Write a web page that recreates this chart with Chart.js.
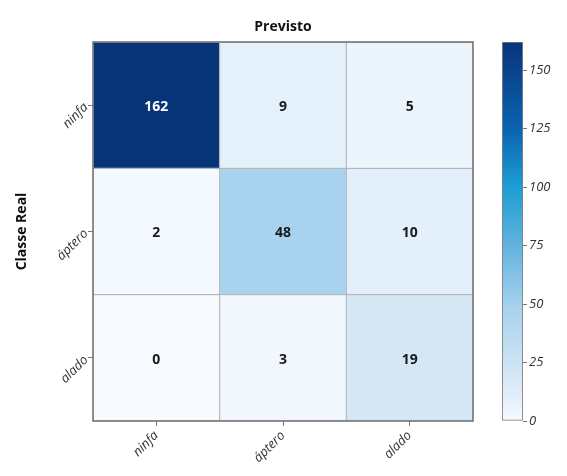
<!DOCTYPE html>
<html>
<head>
<meta charset="utf-8">
<script src="https://cdn.jsdelivr.net/npm/chart.js@4.4.1/dist/chart.umd.min.js"></script>
<style>
	html, body { margin: 0; padding: 0; background: #fff; }
	#wrap { position: relative; width: 567px; height: 476px; }
	#wrap canvas { position: absolute; top: 0; }
</style>
</head>
<body>
<div id="wrap">
	<div style="position:absolute;left:0;top:0;width:567px;height:476px"><canvas id="matriz"></canvas></div>
	<div style="position:absolute;left:490px;top:0;width:77px;height:476px"><canvas id="barra"></canvas></div>
</div>
<script>
/*
  Matriz de confusao
*/
const classes = ['ninfa', 'áptero', 'alado'];
const realNinfa = [162, 9, 5];
const realAptero = [2, 48, 10];
const realAlado = [0, 3, 19];
const escalaMax = 162;
const escalaTicks = [0, 25, 50, 75, 100, 125, 150];

// paleta azul (tipo Blues)
const paleta = [
	[0.00, [247, 251, 255]],
	[0.06, [227, 239, 250]],
	[0.12, [212, 231, 245]],
	[0.30, [168, 210, 238]],
	[0.47, [95, 178, 220]],
	[0.62, [27, 158, 212]],
	[0.77, [11, 99, 176]],
	[1.00, [8, 53, 122]]
];

function corDe(v) {
	let t = Math.max(0, Math.min(1, v / escalaMax));
	for (let i = 1; i < paleta.length; i++) {
		if (t <= paleta[i][0]) {
			let a = paleta[i - 1], b = paleta[i];
			let f = (t - a[0]) / (b[0] - a[0]);
			let c = a[1].map((x, k) => Math.round(x + (b[1][k] - x) * f));
			return 'rgb(' + c.join(',') + ')';
		}
	}
	return 'rgb(' + paleta[paleta.length - 1][1].join(',') + ')';
}

const fonte = "'Open Sans', 'Noto Sans', sans-serif";
Chart.defaults.font.family = fonte;
Chart.defaults.color = '#222';
Chart.defaults.animation = false;

const linhas = [realNinfa, realAptero, realAlado];

const rotulos = {
	id: 'rotulos',
	afterDatasetsDraw(chart) {
		const ctx = chart.ctx;
		ctx.save();
		ctx.font = "bold 14px " + fonte;
		ctx.textAlign = 'center';
		ctx.textBaseline = 'middle';
		chart.data.datasets.forEach((ds, i) => {
			chart.getDatasetMeta(i).data.forEach((bar, j) => {
				let v = ds.contagens[j];
				let p = bar.getCenterPoint();
				ctx.fillStyle = v > escalaMax * 0.6 ? '#ffffff' : '#1a1a1a';
				ctx.fillText(String(v), p.x, p.y + 2);
			});
		});
		let a = chart.chartArea;
		ctx.strokeStyle = '#6e6e6e';
		ctx.lineWidth = 1.5;
		ctx.strokeRect(a.left, a.top, a.right - a.left, a.bottom - a.top);
		ctx.restore();
	}
};

new Chart(document.getElementById('matriz'), {
	type: 'bar',
	plugins: [rotulos],
	data: {
		labels: classes,
		datasets: linhas.map((linha, i) => ({
			label: classes[i],
			data: linha.map(() => 1),
			contagens: linha,
			backgroundColor: linha.map(corDe),
			borderColor: 'rgba(95,105,115,0.35)',
			borderWidth: 1,
			borderSkipped: false,
			barPercentage: 1,
			categoryPercentage: 1
		}))
	},
	options: {
		responsive: true,
		maintainAspectRatio: false,
		layout: { padding: { left: 0, right: 94, top: 0, bottom: 0 } },
		plugins: {
			legend: { display: false },
			tooltip: { enabled: false }
		},
		scales: {
			x: {
				stacked: true,
				grid: { display: true, offset: false, drawOnChartArea: false, tickLength: 5, color: '#777' },
				border: { display: false },
				ticks: {
					minRotation: 45, maxRotation: 45,
					font: { size: 13, style: 'italic' },
					color: '#333',
					padding: 2
				},
				afterFit: function (s) { s.height = 55; }
			},
			topo: {
				type: 'category',
				labels: classes,
				position: 'top',
				grid: { display: false },
				border: { display: false },
				ticks: { display: false },
				title: {
					display: true,
					text: 'Previsto',
					font: { size: 14, weight: 'bold' },
					color: '#111',
					padding: { top: 19, bottom: 0 }
				},
				afterFit: function (s) { s.height = 42; }
			},
			y: {
				stacked: true,
				reverse: true,
				min: 0,
				max: classes.length,
				grid: { display: true, drawOnChartArea: false, tickLength: 5, color: '#777' },
				border: { display: false },
				afterBuildTicks: function (s) {
					s.ticks = classes.map((c, i) => ({ value: i + 0.5 }));
				},
				ticks: {
					minRotation: 45, maxRotation: 45,
					font: { size: 13, style: 'italic' },
					color: '#333',
					padding: 2,
					callback: function (v) { return classes[Math.floor(v)]; }
				},
				title: {
					display: true,
					text: 'Classe Real',
					font: { size: 14, weight: 'bold' },
					color: '#111',
					padding: { top: 14, bottom: 0 }
				},
				afterFit: function (s) { s.width = 93; }
			}
		}
	}
});

// barra de cores
new Chart(document.getElementById('barra'), {
	type: 'bar',
	data: {
		labels: [''],
		datasets: [{
			data: [escalaMax],
			backgroundColor: function (c) {
				let ch = c.chart;
				if (!ch.chartArea) return corDe(escalaMax / 2);
				let y = ch.scales.y;
				let g = ch.ctx.createLinearGradient(0, y.getPixelForValue(0), 0, y.getPixelForValue(escalaMax));
				paleta.forEach(p => g.addColorStop(p[0], 'rgb(' + p[1].join(',') + ')'));
				return g;
			},
			borderColor: '#808080',
			borderWidth: 1.2,
			borderSkipped: false,
			barPercentage: 1,
			categoryPercentage: 1
		}]
	},
	options: {
		responsive: true,
		maintainAspectRatio: false,
		layout: { padding: { left: 12, right: 0, top: 42, bottom: 55 } },
		plugins: {
			legend: { display: false },
			tooltip: { enabled: false }
		},
		scales: {
			x: { display: false },
			y: {
				position: 'right',
				min: 0,
				max: escalaMax,
				grid: { display: true, drawOnChartArea: false, tickLength: 4, color: '#777' },
				border: { display: false },
				afterBuildTicks: function (s) {
					s.ticks = escalaTicks.map(v => ({ value: v }));
				},
				ticks: {
					font: { size: 13, style: 'italic' },
					color: '#333',
					padding: 2
				},
				afterFit: function (s) { s.width = 44; }
			}
		}
	}
});
</script>
</body>
</html>
